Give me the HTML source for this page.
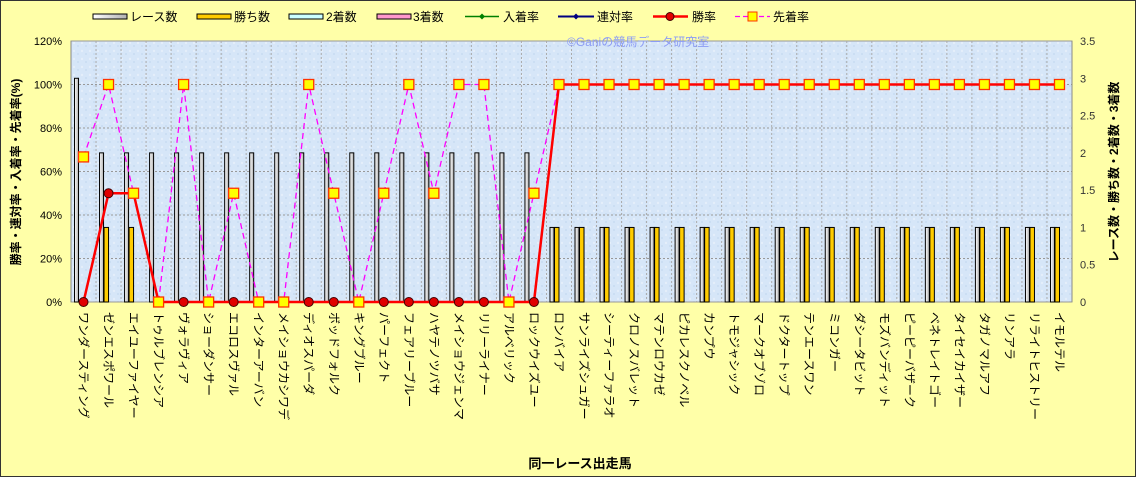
<!DOCTYPE html>
<html><head><meta charset="utf-8">
<style>
html,body{margin:0;padding:0;background:#FFFFA8;}
svg{display:block;font-family:"Liberation Sans","Noto Sans CJK JP",sans-serif;}
</style></head>
<body>
<svg id="chart" width="1136" height="477" viewBox="0 0 1136 477">
<defs>
<pattern id="tex" width="8" height="8" patternUnits="userSpaceOnUse">
<rect width="8" height="8" fill="#D6E6F8"/>
<circle cx="2" cy="3" r="1.2" fill="#E4EEFA"/><circle cx="6" cy="6" r="1" fill="#C8DCF2"/>
</pattern>
<linearGradient id="raceGrad" x1="0" x2="1" y1="0" y2="0">
<stop offset="0" stop-color="#ffffff"/><stop offset="1" stop-color="#b0b0b0"/>
</linearGradient>
</defs>
<rect x="0.5" y="0.5" width="1135" height="476" fill="#FFFFA8" stroke="#333"/>
<rect x="71" y="41" width="1001" height="261" fill="url(#tex)" stroke="#999"/>
<g id="grid"></g>
<g id="bars"></g>
<g id="lines"></g>
<g id="axes"></g>
<g id="xlabels"></g>
<text x="567" y="46" font-size="12" fill="#8C9CF4">©Ganiの競馬データ研究室</text>
<text x="20" y="172" font-size="12" font-weight="bold" text-anchor="middle" transform="rotate(-90 20 172)">勝率・連対率・入着率・先着率(%)</text>
<text x="1118" y="172" font-size="12" font-weight="bold" text-anchor="middle" transform="rotate(-90 1118 172)">レース数・勝ち数・2着数・3着数</text>
<text x="580" y="468" font-size="13" font-weight="bold" text-anchor="middle">同一レース出走馬</text>
<g id="legend">
 <g><rect x="93" y="14" width="34" height="5" fill="url(#raceGrad)" stroke="#000"/><text x="130" y="21" font-size="12">レース数</text></g>
 <g><rect x="197" y="14" width="34" height="5" fill="#FFCC00" stroke="#000"/><text x="234" y="21" font-size="12">勝ち数</text></g>
 <g><rect x="289" y="14" width="34" height="5" fill="#CCFFFF" stroke="#000"/><text x="326" y="21" font-size="12">2着数</text></g>
 <g><rect x="377" y="14" width="34" height="5" fill="#FF99CC" stroke="#000"/><text x="413" y="21" font-size="12">3着数</text></g>
 <g><line x1="465" y1="16.5" x2="499" y2="16.5" stroke="#008000" stroke-width="1.5"/><path d="M482 13.5l3 3-3 3-3-3z" fill="#008000"/><text x="503" y="21" font-size="12">入着率</text></g>
 <g><line x1="558" y1="16.5" x2="594" y2="16.5" stroke="#000080" stroke-width="2"/><path d="M576 13.5l3 3-3 3-3-3z" fill="#000080"/><text x="597" y="21" font-size="12">連対率</text></g>
 <g><line x1="653" y1="16.5" x2="688" y2="16.5" stroke="#FF0000" stroke-width="2.5"/><circle cx="670" cy="16.5" r="4" fill="#E00000" stroke="#400"/><text x="692" y="21" font-size="12">勝率</text></g>
 <g><line x1="735" y1="16.5" x2="770" y2="16.5" stroke="#FF00FF" stroke-width="1.2" stroke-dasharray="5,3"/><rect x="748" y="12" width="9" height="9" fill="#FFFF00" stroke="#FF3300"/><text x="773" y="21" font-size="12">先着率</text></g>
</g>
</svg>
<script>
const horses = ["ワンダースティング","ゼンエスポワール","エイユーファイヤー","トゥルブレンシア","ヴォラヴィア","ショーダンサー","エコロスヴァル","インターアーバン","メイショウカシワデ","ディオスパーダ","ボッドフォルク","キングブルー","パーフェクト","フェアリーブルー","ハヤテノツバサ","メイショウジェンマ","リリーライナー","アルベリック","ロックウイズユー","ロンバイア","サンライズシュガー","シーティーファラオ","クロノスバレット","マテンロウカゼ","ピカレスクノベル","カンプウ","トモジャシック","マークオブゾロ","ドクタートップ","テンエースワン","ミコンガー","ダシータビット","モズバンディット","ピーピーバザーク","ベネトレイトゴー","タイセイカイザー","タガノマルアフ","リンアラ","リライトヒストリー","イモルテル"];
const races = [3,2,2,2,2,2,2,2,2,2,2,2,2,2,2,2,2,2,2,1,1,1,1,1,1,1,1,1,1,1,1,1,1,1,1,1,1,1,1,1];
const wins = [0,1,1,0,0,0,0,0,0,0,0,0,0,0,0,0,0,0,0,1,1,1,1,1,1,1,1,1,1,1,1,1,1,1,1,1,1,1,1,1];
const winRate = [0,50,50,0,0,0,0,0,0,0,0,0,0,0,0,0,0,0,0,100,100,100,100,100,100,100,100,100,100,100,100,100,100,100,100,100,100,100,100,100];
const beatRate = [66.7,100,50,0,100,0,50,0,0,100,50,0,50,100,50,100,100,0,50,100,100,100,100,100,100,100,100,100,100,100,100,100,100,100,100,100,100,100,100,100];
const leftTicks = [0,20,40,60,80,100,120];
const rightTicks = [0,0.5,1,1.5,2,2.5,3,3.5];

const NS="http://www.w3.org/2000/svg";
const L=71,R=1072,T=41,B=302;
const n=horses.length, cw=(R-L)/n;
const xc=i=>L+cw*(i+0.5);
const yL=v=>B-(v/120)*(B-T);
const yR=v=>B-(v/3.5)*(B-T);
function mk(tag,attrs,parent){const e=document.createElementNS(NS,tag);for(const k in attrs)e.setAttribute(k,attrs[k]);document.getElementById(parent).appendChild(e);return e;}

leftTicks.forEach(v=>{
  const g=mk('line',{x1:L,x2:R,y1:yL(v),y2:yL(v),stroke:'#999','stroke-dasharray':'2,2','stroke-width':1},'grid');
  
  
  const t=mk('text',{x:62,y:yL(v)+4,'font-size':11,'text-anchor':'end'},'axes');
  t.textContent=v+'%';
  
  
});
for(let i=1;i<n;i++){
  const g=mk('line',{x1:L+cw*i,x2:L+cw*i,y1:T,y2:B,stroke:'#aaa','stroke-dasharray':'2,2','stroke-width':1},'grid');
  
  
}
rightTicks.forEach(v=>{
  const t=mk('text',{x:1080,y:yR(v)+4,'font-size':11,fill:'#333'},'axes');
  t.textContent=String(v);
  
  
});
mk('line',{x1:L,x2:L,y1:T,y2:B,stroke:'#888'},'axes');
mk('line',{x1:R,x2:R,y1:T,y2:B,stroke:'#888'},'axes');

horses.forEach((h,i)=>{
  const c=xc(i);
  if(races[i]>0){
    const r=mk('rect',{x:c-9,y:yR(races[i]),width:4,height:B-yR(races[i]),fill:'url(#raceGrad)',stroke:'#000','stroke-width':1},'bars');
    
    
  }
  if(wins[i]>0){
    const r=mk('rect',{x:c-4.5,y:yR(wins[i]),width:4.5,height:B-yR(wins[i]),fill:'#FFCC00',stroke:'#000','stroke-width':1},'bars');
    
    
  }
  const t=mk('text',{x:c-4,y:312,'font-size':12,transform:`rotate(90 ${c-4} 312)`},'xlabels');
  t.textContent=h;
  
  
});

const bp=beatRate.map((v,i)=>xc(i)+','+yL(v)).join(' ');
const bl=mk('polyline',{points:bp,fill:'none',stroke:'#FF00FF','stroke-width':1.3,'stroke-dasharray':'6,4'},'lines');


const wp=winRate.map((v,i)=>xc(i)+','+yL(v)).join(' ');
const wl=mk('polyline',{points:wp,fill:'none',stroke:'#FF0000','stroke-width':2.5},'lines');


winRate.forEach((v,i)=>{
  const d=mk('circle',{cx:xc(i),cy:yL(v),r:4.5,fill:'#E00000',stroke:'#400','stroke-width':1},'lines');
  
  
});
beatRate.forEach((v,i)=>{
  const s=mk('rect',{x:xc(i)-5,y:yL(v)-5,width:10,height:10,fill:'#FFFF00',stroke:'#FF3300','stroke-width':1.3},'lines');
  
  
});
</script>
</body></html>
